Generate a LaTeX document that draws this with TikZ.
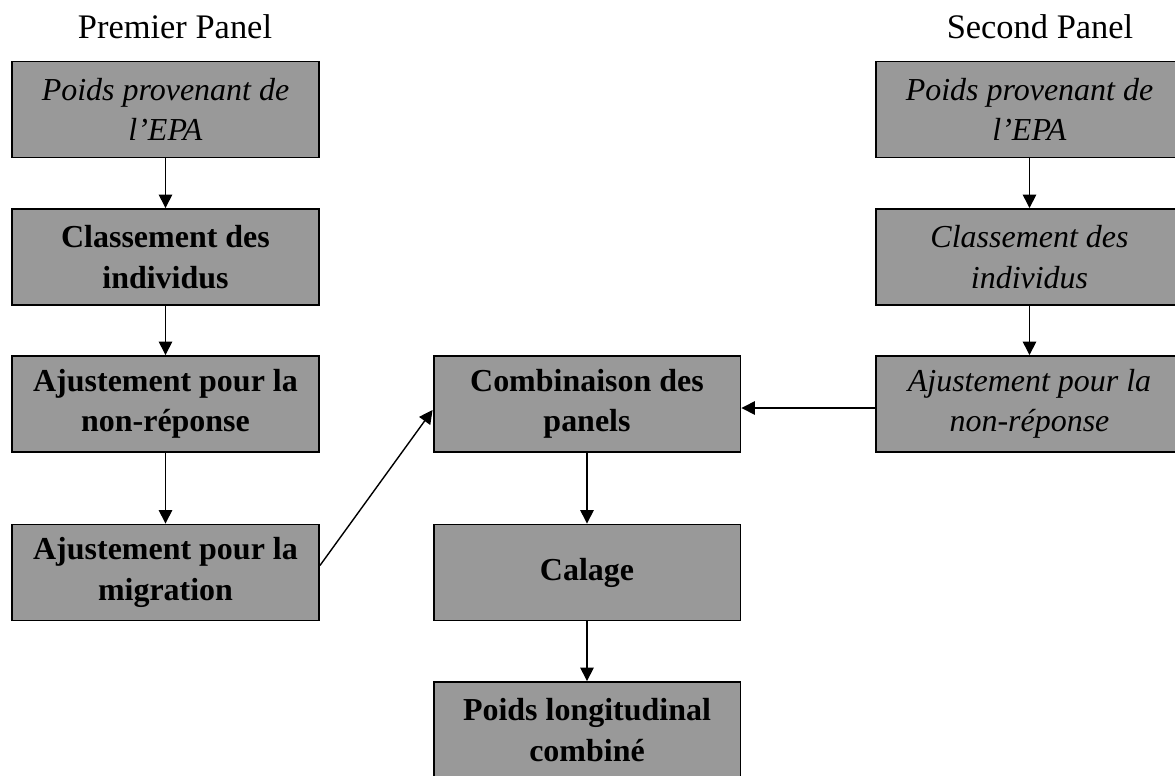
\documentclass[tikz,border=0pt]{standalone}
\usepackage{fontspec}
\setmainfont{Liberation Serif}
\usetikzlibrary{arrows.meta, positioning}
\definecolor{boxgray}{RGB}{153, 153, 153}

\begin{document}
\begin{tikzpicture}[x=0.02cm, y=-0.02cm,
    box/.style={rectangle, draw, line width=1.1pt, fill=boxgray,
                minimum width=6.14cm, minimum height=1.92cm, inner sep=0pt,
                align=center, font=\fontsize{18.2}{23}\selectfont},
    arr/.style={-{Triangle[width=0.27cm, length=0.27cm]}, line width=0.8pt},
    paneltitle/.style={font=\fontsize{19.6}{23}\selectfont}]

    \useasboundingbox (0, 0) rectangle (1175, 775);

    % Titles
    \node[paneltitle] (t1) at (175, 27) {Premier Panel};
    \node[paneltitle] (t2) at (1040, 27) {Second Panel};

    % Premier panel
    \node[box] (p1) at (165.5, 109.5) {\textit{Poids provenant de}\\\textit{l’EPA}};
    \node[box] (p2) at (165.5, 257) {\textbf{Classement des}\\\textbf{individus}};
    \node[box] (p3) at (165.5, 404) {\textbf{Ajustement pour la}\\\textbf{non-réponse}};
    \node[box] (p4) at (165.5, 572.5) {\textbf{Ajustement pour la}\\\textbf{migration}};

    % Second panel
    \node[box] (s1) at (1029.5, 109.5) {\textit{Poids provenant de}\\\textit{l’EPA}};
    \node[box] (s2) at (1029.5, 257) {\textit{Classement des}\\\textit{individus}};
    \node[box] (s3) at (1029.5, 404) {\textit{Ajustement pour la}\\\textit{non-réponse}};

    % Combined
    \node[box] (comb) at (587, 404) {\textbf{Combinaison des}\\\textbf{panels}};
    \node[box] (cal) at (587, 572.5) {\textbf{Calage}};
    \node[box] (final) at (587, 730) {\textbf{Poids longitudinal}\\\textbf{combiné}};

    % Arrows
    \draw[arr] (p1) -- (p2);
    \draw[arr] (p2) -- (p3);
    \draw[arr] (p3) -- (p4);
    \draw[arr] (s1) -- (s2);
    \draw[arr] (s2) -- (s3);
    \draw[arr] ([yshift=0.14cm]p4.east) -- ([yshift=-0.12cm]comb.west);
    \draw[arr] ([yshift=-0.08cm]s3.west) -- ([yshift=-0.08cm]comb.east);
    \draw[arr] (comb) -- (cal);
    \draw[arr] (cal) -- (final);
\end{tikzpicture}
\end{document}
